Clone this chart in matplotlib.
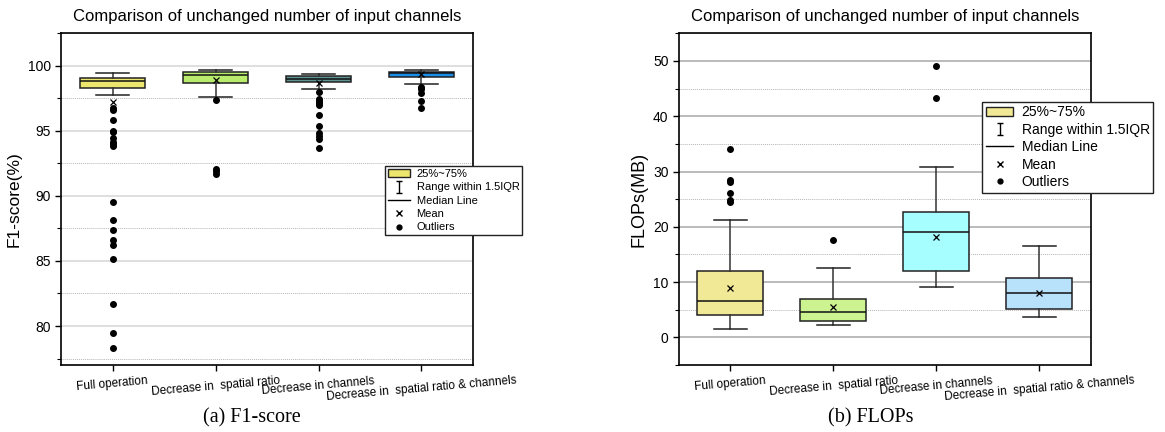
import numpy as np
import matplotlib
matplotlib.use("Agg")
import matplotlib.pyplot as plt
from matplotlib.lines import Line2D
from matplotlib.patches import Patch
from matplotlib.path import Path
from matplotlib.ticker import MultipleLocator

plt.rcParams['font.family'] = ['Liberation Sans', 'DejaVu Sans']

############ data
labels = ['Full operation', 'Decrease in  spatial ratio', 'Decrease in channels',
          'Decrease in  spatial ratio & channels']

# F1-score (%)
f1_q1 = [98.26, 98.70, 98.77, 99.11]
f1_med = [98.82, 99.29, 99.00, 99.41]
f1_q3 = [99.08, 99.54, 99.23, 99.54]
f1_lo = [97.77, 97.57, 98.19, 98.59]
f1_hi = [99.46, 99.65, 99.36, 99.65]
f1_mean = [97.19, 98.90, 98.70, 99.34]
f1_out = [[96.73, 96.60, 95.83, 94.96, 94.88, 94.42, 94.16, 93.99, 93.83, 89.56, 88.15,
           87.38, 86.61, 86.20, 85.13, 81.70, 79.47, 78.30],
          [97.34, 92.09, 91.93, 91.71],
          [97.95, 97.42, 97.27, 97.11, 96.96, 96.24, 95.37, 94.86, 94.62, 94.35, 93.68],
          [98.39, 98.25, 97.90, 97.33, 96.73]]
f1_colors = ['#ece56e', '#b9ec6c', '#5e9392', '#1a8de6']

# FLOPs (MB)
fl_q1 = [3.98, 2.96, 12.06, 5.19]
fl_med = [6.63, 4.58, 19.06, 7.96]
fl_q3 = [12.06, 7.00, 22.62, 10.68]
fl_lo = [1.51, 2.17, 9.11, 3.68]
fl_hi = [21.23, 12.55, 30.88, 16.59]
fl_mean = [8.99, 5.49, 18.21, 8.08]
fl_out = [[34.0, 28.47, 28.17, 26.06, 24.85, 24.43], [17.55], [49.16, 43.25], []]
fl_colors = ['#f1e995', '#cdf290', '#a7fefe', '#b8e1fc']


def stats(q1, med, q3, lo, hi, mean, out):
    res = []
    for i in range(len(q1)):
        res.append(dict(q1=q1[i], med=med[i], q3=q3[i], whislo=lo[i], whishi=hi[i],
                        mean=mean[i], fliers=out[i]))
    return res


# whisker symbol for the legend
whisk = Path([(-0.45, -1), (0.45, -1), (0, -1), (0, 1), (-0.45, 1), (0.45, 1)],
             [Path.MOVETO, Path.LINETO, Path.MOVETO, Path.LINETO, Path.MOVETO, Path.LINETO])


def draw(ax, st, colors, ylim, major, minor, gridc, ylabel, legcol, legpos, legsize, lsp):
    pos = np.arange(1, len(st) + 1)
    b = ax.bxp(st, positions=pos, widths=0.64, capwidths=0.32, patch_artist=True,
               showmeans=True, manage_ticks=False,
               boxprops=dict(edgecolor='#222222', linewidth=1.1),
               whiskerprops=dict(color='#333333', linewidth=1.1),
               capprops=dict(color='#222222', linewidth=1.1),
               medianprops=dict(color='#111111', linewidth=1.1),
               meanprops=dict(marker='x', markeredgecolor='k', markersize=4.5, markeredgewidth=0.9),
               flierprops=dict(marker='o', markerfacecolor='k', markeredgecolor='k', markersize=4))
    for p, c in zip(b['boxes'], colors):
        p.set_facecolor(c)
    ax.set_xlim(0.5, 4.5)
    ax.set_ylim(*ylim)
    ax.set_xticks(pos)
    ax.set_xticklabels(labels, rotation=5, fontsize=8.5)
    ax.yaxis.set_major_locator(MultipleLocator(major))
    ax.yaxis.set_minor_locator(MultipleLocator(minor))
    ax.grid(True, axis='y', which='major', color=gridc, linewidth=1.1)
    ax.grid(True, axis='y', which='minor', color='#b5b5b5', linestyle=(0, (1, 1)), linewidth=0.7)
    ax.set_axisbelow(True)
    ax.tick_params(axis='y', which='major', labelsize=10, length=4, width=1)
    ax.tick_params(axis='y', which='minor', length=3, width=0.8)
    ax.tick_params(axis='x', length=4, width=1, pad=3)
    for s in ax.spines.values():
        s.set_linewidth(1.2)
    ax.set_ylabel(ylabel, fontsize=12.5, labelpad=4)
    ax.set_title('Comparison of unchanged number of input channels', fontsize=12, pad=9)
    hands = [Patch(facecolor=legcol, edgecolor='#222222', linewidth=1),
             Line2D([], [], linestyle='none', marker=whisk, markersize=9, color='k',
                    markeredgewidth=1),
             Line2D([], [], color='k', linewidth=1),
             Line2D([], [], linestyle='none', marker='x', color='k', markersize=4),
             Line2D([], [], linestyle='none', marker='o', color='k', markersize=3.5)]
    names = ['25%~75%', 'Range within 1.5IQR', 'Median Line', 'Mean', 'Outliers']
    leg = ax.legend(hands, names, loc='upper left', bbox_to_anchor=legpos, borderaxespad=0,
                    fontsize=legsize, fancybox=False, framealpha=1, edgecolor='#222222',
                    borderpad=0.25, labelspacing=lsp, handlelength=2.0, handletextpad=0.6)
    leg.get_frame().set_linewidth(1)
    leg.set_zorder(10)


fig = plt.figure(figsize=(11.65, 4.32), dpi=100)
ax1 = fig.add_axes([0.0524, 0.155, 0.3536, 0.768])
ax2 = fig.add_axes([0.5828, 0.155, 0.3536, 0.768])

draw(ax1, stats(f1_q1, f1_med, f1_q3, f1_lo, f1_hi, f1_mean, f1_out), f1_colors,
     (77, 102.5), 5, 2.5, '#d6d6d6', 'F1-score(%)', f1_colors[0], (0.786, 0.599), 8, 0.3)
draw(ax2, stats(fl_q1, fl_med, fl_q3, fl_lo, fl_hi, fl_mean, fl_out), fl_colors,
     (-5, 55), 10, 5, '#a8a8a8', 'FLOPs(MB)', fl_colors[0], (0.736, 0.793), 10, 0.25)
ax2.set_ylabel('FLOPs(MB)', fontsize=13, labelpad=4)

fig.text(0.216, 0.032, '(a) F1-score', family='Liberation Serif', fontsize=14.5,
         ha='center', va='center')
fig.text(0.747, 0.032, '(b) FLOPs', family='Liberation Serif', fontsize=14.5,
         ha='center', va='center')

fig.savefig('out.png', dpi=100)
